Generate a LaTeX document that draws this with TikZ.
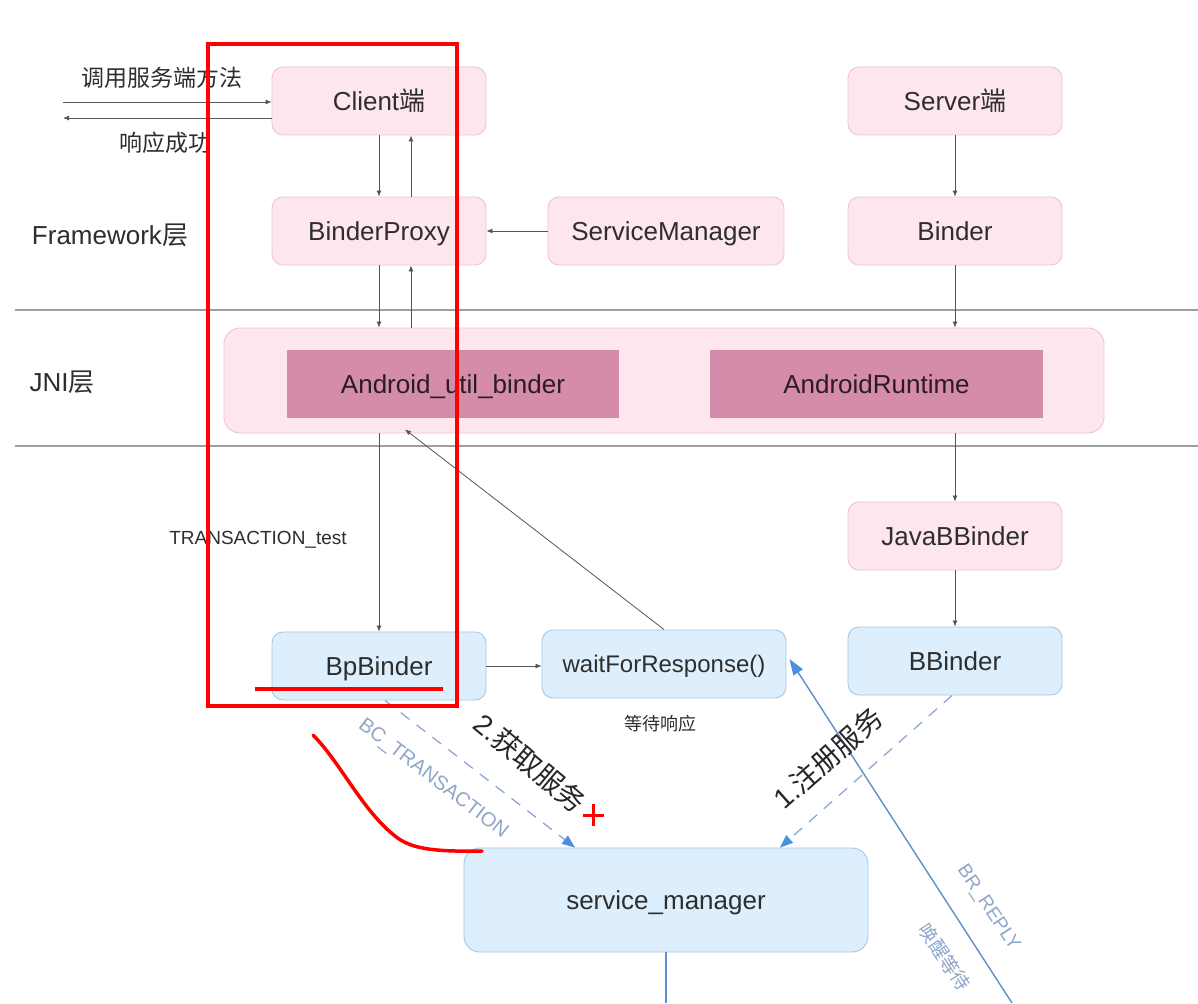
\documentclass[tikz,border=0pt]{standalone}
\usepackage{fontspec}
\setmainfont{Liberation Sans}
\newfontfamily\cjk{Noto Sans CJK SC}
\usetikzlibrary{arrows.meta}
\definecolor{pinkfill}{HTML}{FDE6EE}
\definecolor{pinkline}{HTML}{F0C3D2}
\definecolor{darkpink}{HTML}{D58BAA}
\definecolor{bluefill}{HTML}{DDEFFC}
\definecolor{blueline}{HTML}{A8C6E6}
\definecolor{txt}{HTML}{2E2E2E}
\definecolor{lgray}{HTML}{555555}
\definecolor{layer}{HTML}{A0A0A0}
\definecolor{dashblue}{HTML}{8DA8D6}
\definecolor{tipblue}{HTML}{4A8FE0}
\definecolor{solidblue}{HTML}{5E8FCC}
\definecolor{lbltxt}{HTML}{8EA6C8}
\begin{document}
\begin{tikzpicture}[x=1pt,y=-1pt,
  base/.style={font=\fontsize{26}{30}\selectfont, text=txt, inner sep=0pt, text height=18.6pt, text depth=0pt},
  pinkbox/.style={base, draw=pinkline, fill=pinkfill, rounded corners=11pt, line width=0.9pt, minimum width=214pt, minimum height=68pt},
  bluebox/.style={base, draw=blueline, fill=bluefill, rounded corners=11pt, line width=0.9pt, minimum width=214pt, minimum height=68pt},
  innerbox/.style={base, fill=darkpink, text=black!80!darkpink, minimum width=332pt, minimum height=68pt},
  conn/.style={draw=lgray, line width=0.8pt, -{Latex[length=6pt,width=5pt]}},
  dashconn/.style={draw=dashblue, line width=1.3pt, dash pattern=on 11pt off 9pt, -{Triangle[length=13pt,width=10pt,fill=tipblue,color=tipblue]}},
  solidconn/.style={draw=solidblue, line width=1.4pt, -{Triangle[length=16pt,width=11pt,fill=tipblue,color=tipblue]}},
  lbl/.style={text=txt, inner sep=0pt},
  redmark/.style={draw=red, line width=4pt}
]
\useasboundingbox (0,0) rectangle (1198,1003);
\fill[white] (0,0) rectangle (1198,1003);

% layer lines
\draw[layer, line width=1.2pt] (15,310) -- (1198,310);
\draw[layer, line width=1.2pt] (15,446) -- (1198,446);

% layer labels
\node[lbl, font=\fontsize{26}{30}\selectfont] (fwl) at (110,235) {Framework{\cjk 层}};
\node[lbl, font=\fontsize{26}{30}\selectfont] (jnil) at (62,382) {JNI{\cjk 层}};

% framework boxes
\node[pinkbox] (client) at (379,101) {Client{\cjk 端}};
\node[pinkbox] (server) at (955,101) {Server{\cjk 端}};
\node[pinkbox] (proxy) at (379,231) {BinderProxy};
\node[pinkbox, minimum width=236pt] (sm) at (666,231) {ServiceManager};
\node[pinkbox] (binder) at (955,231) {Binder};

% JNI
\node[pinkbox, minimum width=880pt, minimum height=105pt, rounded corners=16pt] (jni) at (664,380.5) {};
\node[innerbox] (aub) at (453,384) {Android\_util\_binder};
\node[innerbox, minimum width=333pt] (art) at (876.5,384) {AndroidRuntime};

% native
\node[pinkbox] (javab) at (955,536) {JavaBBinder};
\node[bluebox] (bp) at (379,666) {BpBinder};
\node[bluebox, minimum width=244pt, font=\fontsize{24}{28}\selectfont, text height=17.2pt] (wait) at (664,664) {waitForResponse()};
\node[bluebox] (bb) at (955,661) {BBinder};
\node[bluebox, minimum width=404pt, minimum height=104pt, rounded corners=16pt] (smgr) at (666,900) {service\_manager};

% outside coordinates
\coordinate (in1) at (63,102);
\coordinate (out1) at (63,118);
\coordinate (brs) at (1012,1003);
\coordinate (smb) at (666,1003);

% left arrows
\draw[conn] (in1) -- (client.west |- in1);
\draw[conn] (client.west |- out1) -- (out1);
\node[lbl, font=\fontsize{23}{26}\selectfont] (call) at (162,78) {\cjk 调用服务端方法};
\node[lbl, font=\fontsize{23}{26}\selectfont] (resp) at (165,143) {\cjk 响应成功};

% vertical connectors
\draw[conn] (client.south) -- (proxy.north);
\draw[conn] ([xshift=32pt]proxy.north) -- ([xshift=32pt]client.south);
\draw[conn] (sm.west) -- (proxy.east);
\draw[conn] (server.south) -- (binder.north);
\draw[conn] (proxy.south) -- (proxy.south |- jni.north);
\draw[conn] ([xshift=32pt]proxy.south |- jni.north) -- ([xshift=32pt]proxy.south);
\draw[conn] (binder.south) -- (binder.south |- jni.north);
\draw[conn] (javab.north |- jni.south) -- (javab.north);
\draw[conn] (javab.south) -- (bb.north);
\draw[conn] (bp.north |- jni.south) -- (bp.north);
\node[lbl, font=\fontsize{19}{22}\selectfont] (tt) at (258,540) {TRANSACTION\_test};
\draw[conn] (wait.north) -- ([xshift=-259pt,yshift=4pt]jni.south);
\draw[conn] (bp.east) -- (wait.west |- bp.east);
\node[lbl, font=\fontsize{18}{20}\selectfont] (wr) at (660,724) {\cjk 等待响应};

% binder driver arrows
\draw[dashconn] ([xshift=6pt]bp.south) -- ([xshift=-91pt]smgr.north);
\draw[dashconn] ([xshift=-3pt]bb.south) -- ([xshift=114pt]smgr.north);
\draw[solidconn] (brs) -- ([yshift=5pt,xshift=3pt]wait.east);
\draw[draw=solidblue, line width=1.4pt] (smgr.south) -- (smb);

\node[lbl, text=lbltxt, rotate=-37.5, font=\fontsize{20}{22}\selectfont] (bct) at (433,779) {BC\_TRANSACTION};
\node[lbl, text=black!85, rotate=-40, font=\fontsize{28}{30}\selectfont] (get) at (530,763) {2.{\cjk 获取服务}};
\node[lbl, text=black!85, rotate=41.5, font=\fontsize{28}{30}\selectfont] (reg) at (828,758) {1.{\cjk 注册服务}};
\node[lbl, text=lbltxt, rotate=-56.5, font=\fontsize{19}{22}\selectfont] (brr) at (988,908) {BR\_REPLY};
\node[lbl, text=lbltxt, rotate=-56.5, font=\fontsize{19}{22}\selectfont] (wake) at (945,957) {\cjk 唤醒等待};

% red hand annotations
\draw[redmark] (208,44) rectangle (457,706);
\draw[redmark, line width=3.5pt] (255,689) -- (443,689);
\draw[redmark, line width=3.5pt, line cap=round] (313,735) .. controls (340,762) and (362,810) .. (395,836) .. controls (410,848) and (430,852) .. (482,851);
\draw[redmark, line width=3pt] (583,815) -- (604,815);
\draw[redmark, line width=3pt] (593,804) -- (593,826);
\end{tikzpicture}
\end{document}
